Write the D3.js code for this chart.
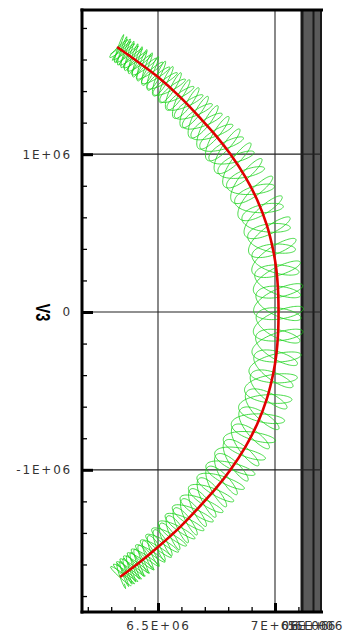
<!DOCTYPE html>
<html>
<head>
<meta charset="utf-8">
<script src="https://cdn.jsdelivr.net/npm/d3@7"></script>
<style>
  html, body { margin: 0; padding: 0; background: #fff; }
  svg { display: block; }
</style>
</head>
<body>
<svg id="chart" width="345" height="632"></svg>
<script>
// Reference arc: V1 (horizontal) against V3 (vertical)
const arcV1 = [6.325e6, 6.415e6, 6.500e6, 6.594e6, 6.684e6, 6.749e6, 6.809e6, 6.873e6,
               6.924e6, 6.965e6, 6.992e6, 7.006e6, 7.013e6, 7.015e6,
               7.013e6, 7.006e6, 6.992e6, 6.965e6, 6.924e6, 6.873e6, 6.809e6, 6.749e6,
               6.684e6, 6.594e6, 6.500e6, 6.423e6, 6.338e6];
const arcV3 = [1.679e6, 1.584e6, 1.489e6, 1.363e6, 1.223e6, 1.115e6, 1.001e6, 0.856e6,
               0.710e6, 0.551e6, 0.393e6, 0.266e6, 0.139e6, 0,
               -0.139e6, -0.266e6, -0.393e6, -0.551e6, -0.710e6, -0.856e6, -1.001e6, -1.115e6,
               -1.223e6, -1.363e6, -1.489e6, -1.584e6, -1.679e6];

// Coil traced around the arc: pitch and half-width along the arc (fraction of arc length)
const coilStops = [0, 0.04, 0.10, 0.20, 0.32, 0.50, 0.68, 0.80, 0.90, 0.96, 1];
const coilPitch = [3.5, 5.5, 10, 15, 20, 22, 20, 15, 10, 5.5, 3.5];
const coilHalfWidth = [14, 15, 18, 22, 24, 25, 24, 22, 18, 15, 14];

// Axis ticks
const xMajor = [6.5e6, 7.0e6];
const xMajorLabels = ["6.5E+06", "7E+06"];
const xMinor = [6.2e6, 6.3e6, 6.4e6, 6.6e6, 6.7e6, 6.8e6, 6.9e6, 7.1e6];
const xCrowded = [7.128e6, 7.158e6, 7.188e6];
const xCrowdedLabels = ["6E+06", "5E+06", "6E+06"];
const yMajor = [1e6, 0, -1e6];
const yMajorLabels = ["1E+06", "0", "-1E+06"];
const yMinor = [1.8e6, 1.6e6, 1.4e6, 1.2e6, 0.8e6, 0.6e6, 0.4e6, 0.2e6,
                -0.2e6, -0.4e6, -0.6e6, -0.8e6, -1.2e6, -1.4e6, -1.6e6, -1.8e6];
// Shaded strip at the right end of the V1 range
const stripEdges = [7.1154e6, 7.1645e6, 7.1966e6];

(function draw() {
  const svg = d3.select("#chart");
  const pL = 82, pR = 322, pT = 10, pB = 612;

  const x = d3.scaleLinear().domain([6.17521e6, 7.20085e6]).range([pL, pR]);
  const y = d3.scaleLinear().domain([-1.9011e6, 1.9138e6]).range([pB, pT]);

  // Shaded strip
  svg.append("rect")
    .attr("x", x(stripEdges[0])).attr("y", pT)
    .attr("width", pR - x(stripEdges[0])).attr("height", pB - pT)
    .attr("fill", "#5a5a5a");
  svg.selectAll("line.strip").data(stripEdges).join("line")
    .attr("class", "strip")
    .attr("x1", d => x(d)).attr("x2", d => x(d))
    .attr("y1", pT).attr("y2", pB)
    .attr("stroke", "#1a1a1a")
    .attr("stroke-width", (d, i) => i === 0 ? 3 : 2);

  // Grid lines
  svg.selectAll("line.gx").data(xMajor).join("line")
    .attr("class", "gx")
    .attr("x1", d => x(d)).attr("x2", d => x(d))
    .attr("y1", pT).attr("y2", pB)
    .attr("stroke", "#3a3a3a").attr("stroke-width", 1.2);
  svg.selectAll("line.gy").data(yMajor).join("line")
    .attr("class", "gy")
    .attr("x1", pL).attr("x2", pR)
    .attr("y1", d => y(d)).attr("y2", d => y(d))
    .attr("stroke", "#222").attr("stroke-width", 1.2);

  // Coil around the arc
  const pts = arcV1.map((v, i) => [x(v), y(arcV3[i])]);
  const arcLine = d3.line().curve(d3.curveCatmullRom.alpha(0.5));
  const guide = svg.append("path").attr("d", arcLine(pts)).attr("fill", "none").attr("stroke", "none");
  const node = guide.node();
  const total = node.getTotalLength();
  const pitchAt = d3.scaleLinear().domain(coilStops).range(coilPitch);
  const widthAt = d3.scaleLinear().domain(coilStops).range(coilHalfWidth);

  function coil(phaseShift, widthScale, tilt) {
    const out = [];
    let phi = phaseShift;
    const ds = 0.25;
    for (let s = 0; s <= total; s += ds) {
      const p = node.getPointAtLength(s);
      const p0 = node.getPointAtLength(Math.max(0, s - 1));
      const p1 = node.getPointAtLength(Math.min(total, s + 1));
      let tx = p1.x - p0.x, ty = p1.y - p0.y;
      const L = Math.hypot(tx, ty) || 1;
      tx /= L; ty /= L;
      const nx = -ty, ny = tx;
      const u = s / total;
      const pitch = pitchAt(u);
      const A = widthAt(u) * widthScale;
      const B = pitch * 0.45;
      const a = A * Math.cos(phi);
      const b = B * Math.sin(phi) + tilt * A * Math.cos(phi) * 0.25;
      out.push([p.x + a * nx + b * tx, p.y + a * ny + b * ty]);
      phi += 2 * Math.PI * ds / pitch;
    }
    return out;
  }

  const coilLine = d3.line();
  [[0, 1, 1], [0.7, 0.9, -1]].forEach(([ph, ws, tl]) => {
    svg.append("path")
      .attr("d", coilLine(coil(ph, ws, tl)))
      .attr("fill", "none")
      .attr("stroke", "#19d219")
      .attr("stroke-width", 0.8);
  });

  // Reference arc on top
  svg.append("path")
    .attr("d", arcLine(pts))
    .attr("fill", "none")
    .attr("stroke", "#e00000")
    .attr("stroke-width", 2.6);

  // Axis ticks (pointing inward)
  function styleAxis(g, w) {
    g.select(".domain").remove();
    g.selectAll(".tick line").attr("stroke", "#000").attr("stroke-width", w);
  }
  svg.append("g").attr("transform", `translate(${pL},0)`)
    .call(d3.axisRight(y).tickValues(yMinor).tickSize(5).tickFormat(""))
    .call(g => styleAxis(g, 1.3));
  svg.append("g").attr("transform", `translate(${pL},0)`)
    .call(d3.axisRight(y).tickValues(yMajor).tickSize(11).tickFormat(""))
    .call(g => styleAxis(g, 3));
  svg.append("g").attr("transform", `translate(0,${pB})`)
    .call(d3.axisTop(x).tickValues(xMinor).tickSize(5).tickFormat(""))
    .call(g => styleAxis(g, 1.3));
  svg.append("g").attr("transform", `translate(0,${pB})`)
    .call(d3.axisTop(x).tickValues(xMajor).tickSize(9).tickFormat(""))
    .call(g => styleAxis(g, 3));

  // Frame lines
  svg.append("line").attr("x1", pL).attr("x2", pL).attr("y1", pT - 1.5).attr("y2", pB + 1.5)
    .attr("stroke", "#000").attr("stroke-width", 3);
  svg.append("line").attr("x1", pL - 1.5).attr("x2", pR + 1).attr("y1", pB).attr("y2", pB)
    .attr("stroke", "#000").attr("stroke-width", 3);
  svg.append("line").attr("x1", pL - 1.5).attr("x2", pR + 1).attr("y1", pT).attr("y2", pT)
    .attr("stroke", "#000").attr("stroke-width", 3);

  // Tick labels
  function labelAxis(g) {
    g.select(".domain").remove();
    g.selectAll(".tick line").remove();
    g.selectAll(".tick text")
      .attr("font-family", "'DejaVu Sans', sans-serif")
      .attr("font-size", 12)
      .attr("letter-spacing", "1.8px")
      .attr("fill", "#333");
  }
  svg.append("g").attr("transform", `translate(${pL},0)`)
    .call(d3.axisLeft(y).tickValues(yMajor).tickSize(0).tickPadding(10)
      .tickFormat((d, i) => yMajorLabels[i]))
    .call(labelAxis);
  svg.append("g").attr("transform", `translate(0,${pB})`)
    .call(d3.axisBottom(x).tickValues(xMajor).tickSize(0).tickPadding(9)
      .tickFormat((d, i) => xMajorLabels[i]))
    .call(labelAxis);
  svg.append("g").attr("transform", `translate(0,${pB})`)
    .call(d3.axisBottom(x).tickValues(xCrowded).tickSize(0).tickPadding(9)
      .tickFormat((d, i) => xCrowdedLabels[i]))
    .call(labelAxis);

  // Axis title
  svg.append("text")
    .attr("transform", "translate(36,312.5) rotate(90) scale(0.72,1)")
    .attr("text-anchor", "middle")
    .attr("font-family", "'Liberation Sans', Arial, sans-serif")
    .attr("font-weight", "bold")
    .attr("font-size", 20)
    .attr("fill", "#000")
    .text("V3");
})();
</script>
</body>
</html>
